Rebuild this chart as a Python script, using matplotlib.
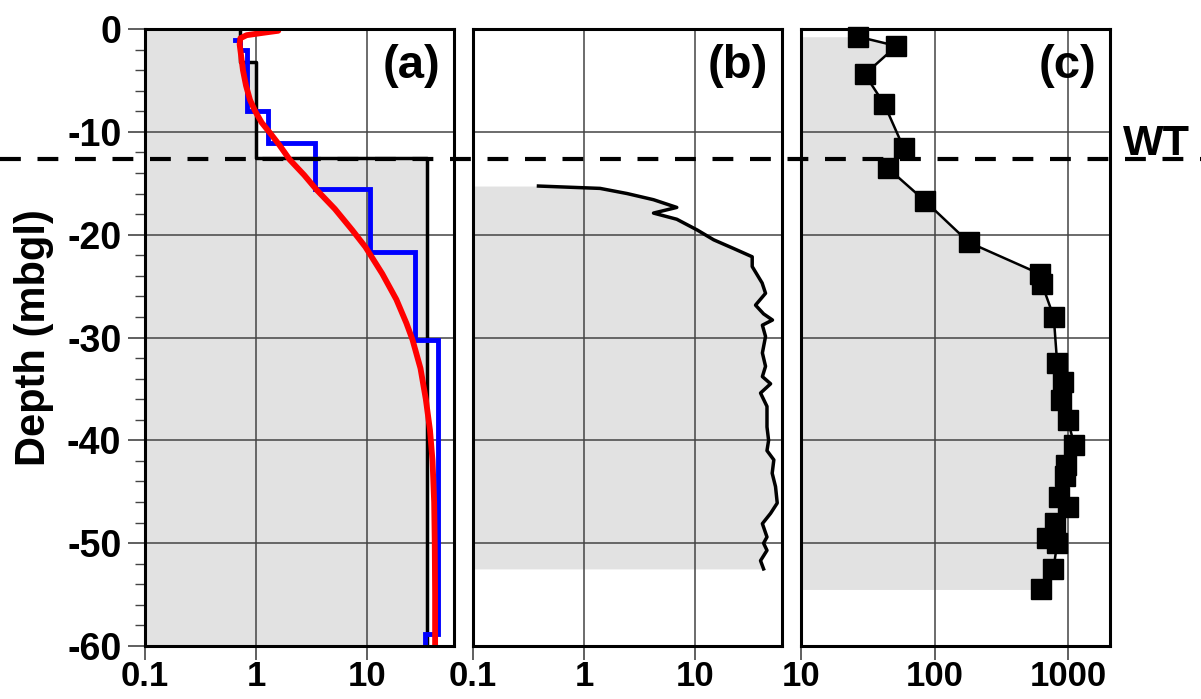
import numpy as np
import matplotlib
matplotlib.use("Agg")
import matplotlib.pyplot as plt
import matplotlib.transforms as mtransforms
from matplotlib.lines import Line2D
from matplotlib.ticker import MultipleLocator, NullLocator

plt.rcParams['font.family'] = ['Liberation Sans', 'DejaVu Sans']
plt.rcParams['font.weight'] = 'bold'
plt.rcParams['axes.unicode_minus'] = False

# water table depth
wt_depth = -12.65

# (a) layered profiles: top, bottom, value
black_top = [-0.3, -3.2, -12.5]
black_bot = [-3.2, -12.5, -60.0]
black_val = [0.72, 1.0, 34.0]

blue_top = [-1.1, -1.1, -2.0, -8.0, -11.1, -15.6, -21.7, -30.2, -58.8]
blue_bot = [-1.1, -2.0, -8.0, -11.1, -15.6, -21.7, -30.2, -58.8, -60.0]
blue_val = [0.65, 0.72, 0.82, 1.29, 3.4, 10.6, 27.0, 43.0, 33.0]

red_x = [1.58, 1.1, 0.82, 0.72, 0.71, 0.73, 0.76, 0.81, 0.88, 0.98, 1.12, 1.33,
         1.62, 2.0, 2.7, 3.5, 5.1, 7.3, 9.6, 13.6, 18.2, 22.4, 25.4, 30.0,
         33.5, 36.5, 38.5, 39.8, 40.3, 40.6, 40.6]
red_d = [-0.17, -0.4, -0.6, -0.9, -1.5, -2.5, -4.0, -5.5, -6.9, -8.0, -9.1, -10.1,
         -11.3, -12.7, -14.2, -15.65, -17.5, -19.55, -21.2, -23.8, -26.3, -28.6,
         -30.2, -33.0, -36.0, -39.0, -42.0, -46.0, -50.0, -55.0, -60.0]

# (b) continuous log
b_x = [0.388, 1.39, 2.43, 4.2, 6.8, 4.2, 6.8, 10.4, 14.6, 22.1, 32.4, 32.4, 39.8,
       42.7, 34.7, 41.0, 49.3, 40.0, 42.7, 40.0, 42.7, 40.0, 47.4, 38.5, 44.0,
       44.0, 45.5, 44.0, 50.7, 49.0, 52.5, 54.4, 47.4, 40.0, 44.0, 41.0, 44.0,
       38.5, 41.0]
b_d = [-15.27, -15.5, -16.0, -16.6, -17.35, -17.9, -18.5, -19.55, -20.5, -21.35,
       -22.15, -23.1, -24.7, -25.7, -26.85, -27.7, -28.3, -28.8, -29.9, -31.5,
       -32.8, -33.8, -34.5, -35.4, -36.7, -38.7, -40.0, -41.0, -41.9, -43.2,
       -44.5, -46.1, -47.1, -48.1, -49.4, -50.0, -50.7, -51.7, -52.5]

# (c) point samples
c_x = [26.8, 51.7, 30.0, 41.9, 58.7, 44.8, 84.2, 180.0, 608.0, 632.0, 777.0,
       824.0, 918.0, 882.0, 989.0, 1109.0, 961.0, 950.0, 847.0, 989.0, 795.0,
       689.0, 824.0, 773.0, 625.0]
c_d = [-0.75, -1.65, -4.4, -7.3, -11.6, -13.55, -16.7, -20.75, -23.8, -24.75,
       -28.0, -32.5, -34.3, -36.1, -38.0, -40.5, -42.4, -43.5, -45.5, -46.5,
       -48.0, -49.5, -50.0, -52.5, -54.5]

xlims = [(0.1, 60), (0.1, 60), (10, 2050)]
xticks = [[0.1, 1, 10], [0.1, 1, 10], [10, 100, 1000]]
xlabels = [['0.1', '1', '10'], ['0.1', '1', '10'], ['10', '100', '1000']]
panel_names = ['(a)', '(b)', '(c)']


def step_path(tops, bots, vals):
    xs, ys = [], []
    for t, b, v in zip(tops, bots, vals):
        xs += [v, v]
        ys += [t, b]
    return np.array(xs), np.array(ys)


fill_col = '#e2e2e2'
grid_col = '#444444'

fig = plt.figure(figsize=(12.01, 6.99), dpi=100)
lefts = [0.1207, 0.3938, 0.667]
axes = []
for i, left in enumerate(lefts):
    ax = fig.add_axes([left, 0.0758, 0.2573, 0.8827])
    ax.set_xscale('log')
    ax.set_xlim(*xlims[i])
    ax.set_ylim(-60, 0)
    ax.set_xticks(xticks[i])
    ax.set_xticklabels(xlabels[i])
    ax.xaxis.set_minor_locator(NullLocator())
    ax.yaxis.set_major_locator(MultipleLocator(10))
    ax.yaxis.set_minor_locator(MultipleLocator(2))
    ax.grid(True, which='major', color=grid_col, lw=1.1)
    ax.tick_params(axis='x', which='major', direction='out', length=10, width=1.2,
                   pad=0, labelsize=25, color=grid_col)
    ax.tick_params(axis='y', which='major', direction='out', length=12, width=1.2,
                   pad=5, labelsize=27, color=grid_col)
    ax.tick_params(axis='y', which='minor', direction='out', length=7, width=1.0,
                   color=grid_col)
    if i > 0:
        ax.tick_params(axis='y', which='both', left=False, labelleft=False)
    for sp in ax.spines.values():
        sp.set_linewidth(2.2)
        sp.set_color('black')
        sp.set_zorder(5)
    ax.text(0.955, 0.975, panel_names[i], transform=ax.transAxes, ha='right',
            va='top', fontsize=34, fontweight='bold')
    axes.append(ax)

ax_a, ax_b, ax_c = axes

# (a)
bx, by = step_path(black_top, black_bot, black_val)
ax_a.fill_betweenx(np.r_[0.0, by], 0.1, np.r_[bx[0], bx], color=fill_col, lw=0, zorder=1)
ax_a.plot(bx, by, color='black', lw=2.5, zorder=3)
ux, uy = step_path(blue_top, blue_bot, blue_val)
ax_a.plot(ux, uy, color='#0000ff', lw=3.5, zorder=4, solid_joinstyle='miter')
ax_a.plot(red_x, red_d, color='#ff0000', lw=4.2, zorder=4.5, solid_capstyle='round')

# (b)
ax_b.fill_betweenx(b_d, 0.1, b_x, color=fill_col, lw=0, zorder=1)
ax_b.plot(b_x, b_d, color='black', lw=2.5, zorder=3)

# (c)
ax_c.fill_betweenx(c_d, 10, c_x, color=fill_col, lw=0, zorder=1)
ax_c.plot(c_x, c_d, color='black', lw=1.8, marker='s', markersize=14,
          markerfacecolor='black', markeredgecolor='black', zorder=3, clip_on=False)

# water table line across all panels
trans = mtransforms.blended_transform_factory(fig.transFigure, ax_a.transData)
fig.add_artist(Line2D([0.0, 1.0], [wt_depth, wt_depth], transform=trans,
                      color='black', lw=3, linestyle=(0, (5, 4)), zorder=10))
fig.text(0.935, wt_depth + 0.4, 'WT', transform=trans, ha='left', va='baseline',
         fontsize=31, fontweight='bold')

fig.text(0.028, 0.517, 'Depth (mbgl)', rotation=90, ha='center', va='center',
         fontsize=30, fontweight='bold')

fig.savefig('out.png', dpi=100)
